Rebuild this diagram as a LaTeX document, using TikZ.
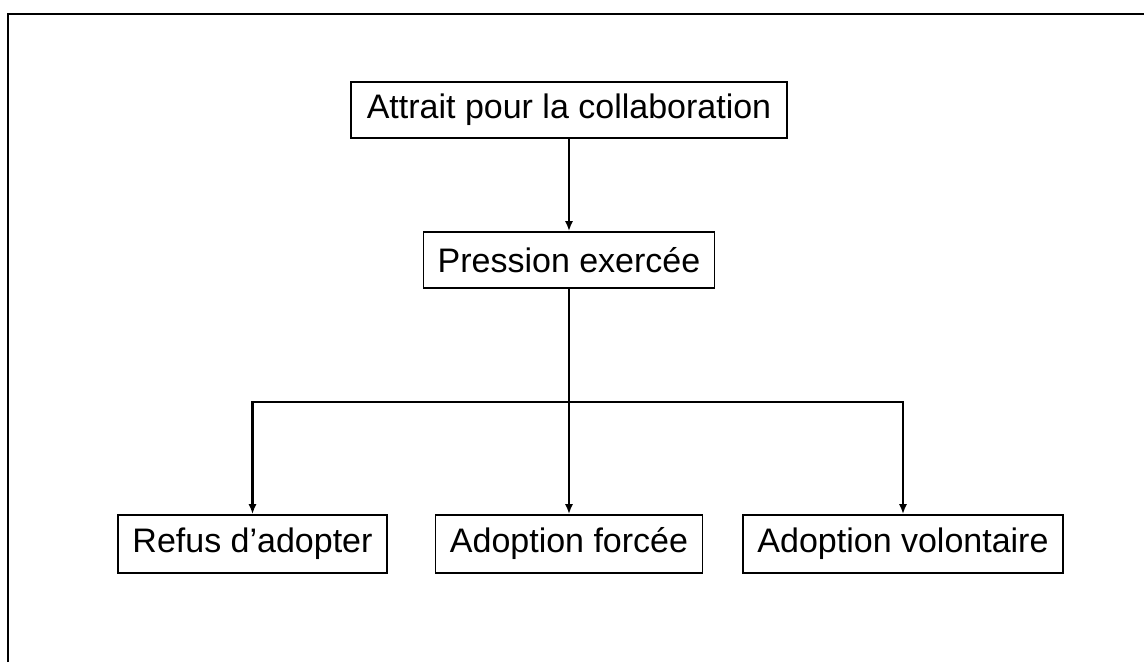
\documentclass[tikz,border=0pt]{standalone}
\usepackage{fontspec}
\setmainfont{Liberation Sans}
\usetikzlibrary{arrows.meta}
\begin{document}
\begin{tikzpicture}[x=1pt,y=-1pt,
  box/.style={draw,line width=1.6pt,inner sep=0pt,minimum height=56pt,
    font=\fontsize{34}{38}\selectfont},
  link/.style={line width=2.2pt},
  arrowlink/.style={link,-{Latex[length=10pt,width=8pt]}}]
  \useasboundingbox (0,0) rectangle (1144,662);
  % frame
  \draw[line width=2.6pt] (8,662) -- (8,14) -- (1144,14);
  % boxes
  \node[box,minimum width=436pt] (attrait) at (569,110) {Attrait pour la collaboration};
  \node[box,minimum width=291pt] (pression) at (569,260) {Pression exercée};
  \node[box,minimum width=269pt,minimum height=58pt] (refus) at (252.5,544) {Refus d’adopter};
  \node[box,minimum width=267pt,minimum height=58pt] (forcee) at (569,544) {Adoption forcée};
  \node[box,minimum width=320pt,minimum height=58pt] (volont) at (903,544) {Adoption volontaire};
  \coordinate (bar) at (569,402);
  % connectors
  \draw[arrowlink] (attrait.south) -- (pression.north);
  \draw[arrowlink] (pression.south) -- (forcee.north);
  \draw[link,line cap=rect] (refus.north |- bar) -- (volont.north |- bar);
  \draw[arrowlink] (refus.north |- bar) -- (refus.north);
  \draw[arrowlink] (volont.north |- bar) -- (volont.north);
\end{tikzpicture}
\end{document}
